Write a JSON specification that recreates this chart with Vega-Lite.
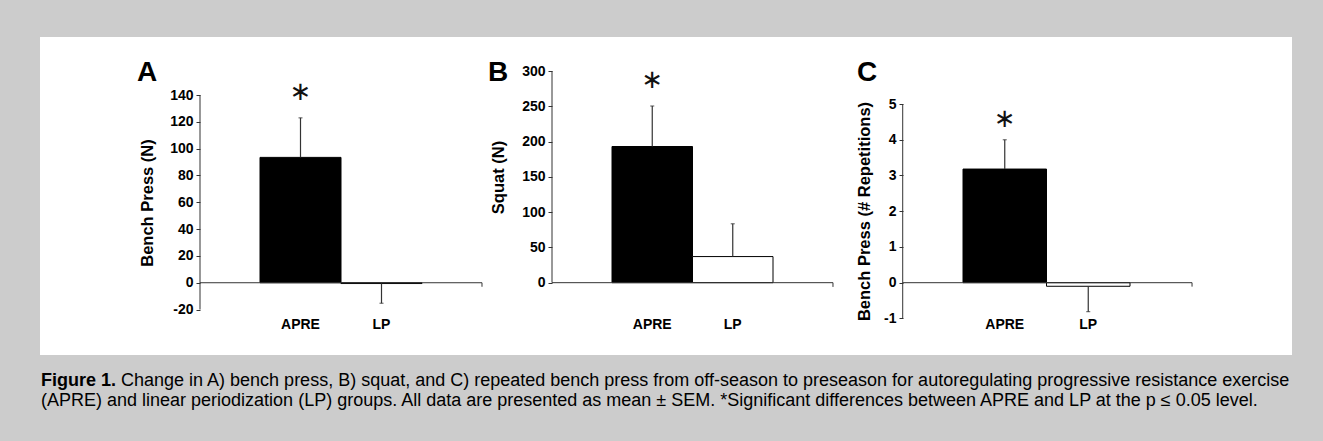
{
  "$schema": "https://vega.github.io/schema/vega-lite/v6.json",
  "background": "#cccccc",
  "padding": {"left": 40, "top": 37, "right": 31, "bottom": 32},
  "title": {
    "text": "(APRE) and linear periodization (LP) groups. All data are presented as mean ± SEM. *Significant differences between APRE and LP at the p ≤ 0.05 level.",
    "orient": "bottom",
    "anchor": "start",
    "offset": 16,
    "baseline": "alphabetic",
    "font": "Liberation Sans",
    "fontSize": 18,
    "fontWeight": "normal",
    "color": "black",
    "dx": 1
  },
  "config": {
    "view": {"fill": "white", "stroke": null},
    "axis": {
      "grid": false,
      "labelFont": "Liberation Sans",
      "labelFontWeight": "bold",
      "labelFontSize": 14,
      "labelColor": "black",
      "labelOverlap": false,
      "titleFont": "Liberation Sans",
      "titleFontWeight": "bold",
      "titleFontSize": 16.5,
      "titleColor": "black",
      "tickColor": "#333333"
    },
    "title": {"font": "Liberation Sans", "fontWeight": "bold", "fontSize": 28, "color": "black"}
  },
  "vconcat": [
    {
      "title": {"text": "Change in A) bench press, B) squat, and C) repeated bench press from off-season to preseason for autoregulating progressive resistance exercise", "orient": "bottom", "anchor": "start", "offset": -4, "baseline": "alphabetic", "font": "Liberation Sans", "fontSize": 18, "fontWeight": "normal", "color": "black", "dx": 81},
      "vconcat": [
        {
          "spacing": 0,
          "title": {"text": "Figure 1.", "orient": "bottom", "anchor": "start", "offset": 31, "baseline": "alphabetic", "font": "Liberation Sans", "fontSize": 18, "fontWeight": "bold", "color": "black", "dx": 1},
          "hconcat": [
            {
              "width": 445,
              "height": 318,
              "title": {"text": "A", "anchor": "start", "frame": "group", "orient": "top", "offset": -72, "dx": 97, "baseline": "alphabetic"},
              "data": {"values": [
                {"group": "APRE", "mean": 93.5, "end": 123, "sig": "∗"},
                {"group": "LP", "mean": -0.6, "end": -15.3, "sig": ""}
              ]},
              "layer": [
                {
                  "mark": {"type": "bar", "stroke": "black", "strokeWidth": 1},
                  "encoding": {
                    "x": {"field": "group", "type": "nominal", "sort": null, "scale": {"domain": ["APRE", "LP"], "range": [220, 382], "paddingInner": 0, "paddingOuter": 0},
                      "axis": {"title": null, "orient": "bottom", "domain": false, "ticks": false, "labelPadding": 0, "offset": -38, "labelAngle": 0}},
                    "y": {"field": "mean", "type": "quantitative", "scale": {"domain": [-53.9, 183.3], "nice": false, "zero": false},
                      "axis": {"title": "Bench Press (N)", "values": [-20, 0, 20, 40, 60, 80, 100, 120, 140], "tickCount": 12, "labelOverlap": false, "labelExpr": "replace(datum.label, '−', '-')",
                        "offset": -160, "domain": false, "tickSize": 4, "labelPadding": 3,
                        "titleX": -53, "titleY": 165.5, "titleBaseline": "middle", "titleAngle": -90, "titleAlign": "center"}},
                    "y2": {"datum": 0},
                    "color": {"field": "group", "type": "nominal", "scale": {"domain": ["APRE", "LP"], "range": ["black", "white"]}, "legend": null}
                  }
                },
                {
                  "data": {"values": [{}]},
                  "mark": {"type": "rule", "color": "#333333", "strokeWidth": 1},
                  "encoding": {
                    "x": {"datum": "APRE", "type": "nominal", "bandPosition": -0.7407},
                    "y": {"datum": -20, "type": "quantitative"},
                    "y2": {"datum": 140}
                  }
                },
                {
                  "data": {"values": [{}]},
                  "mark": {"type": "rule", "color": "#333333", "strokeWidth": 1},
                  "encoding": {
                    "x": {"datum": "APRE", "type": "nominal", "bandPosition": -0.7407},
                    "x2": {"datum": "APRE", "bandPosition": 2.7407},
                    "y": {"datum": 0, "type": "quantitative"}
                  }
                },
                {
                  "data": {"values": [{}]},
                  "mark": {"type": "rule", "color": "#333333", "strokeWidth": 1},
                  "encoding": {
                    "x": {"datum": "APRE", "type": "nominal", "bandPosition": 2.7407},
                    "y": {"datum": 0, "type": "quantitative"},
                    "y2": {"datum": -3}
                  }
                },
                {
                  "mark": {"type": "rule", "color": "#333333", "strokeWidth": 1.2},
                  "encoding": {
                    "x": {"field": "group", "type": "nominal"},
                    "y": {"field": "mean", "type": "quantitative"},
                    "y2": {"field": "end"}
                  }
                },
                {
                  "mark": {"type": "tick", "orient": "horizontal", "color": "#333333", "size": 4, "thickness": 1.2},
                  "encoding": {
                    "x": {"field": "group", "type": "nominal"},
                    "y": {"field": "end", "type": "quantitative"}
                  }
                },
                {
                  "mark": {"type": "text", "font": "DejaVu Sans", "fontSize": 26, "baseline": "middle", "align": "center", "color": "#111111"},
                  "encoding": {
                    "x": {"field": "group", "type": "nominal"},
                    "y": {"datum": 142.6, "type": "quantitative"},
                    "text": {"field": "sig"}
                  }
                }
              ]
            },
            {
              "width": 360,
              "height": 318,
              "title": {"text": "B", "anchor": "start", "frame": "group", "orient": "top", "offset": -72, "dx": 3, "baseline": "alphabetic"},
              "data": {"values": [
                {"group": "APRE", "mean": 193, "end": 250.4, "sig": "∗"},
                {"group": "LP", "mean": 37, "end": 83.5, "sig": ""}
              ]},
              "layer": [
                {
                  "mark": {"type": "bar", "stroke": "black", "strokeWidth": 1},
                  "encoding": {
                    "x": {"field": "group", "type": "nominal", "sort": null, "scale": {"domain": ["APRE", "LP"], "range": [127, 288], "paddingInner": 0, "paddingOuter": 0},
                      "axis": {"title": null, "orient": "bottom", "domain": false, "ticks": false, "labelPadding": 0, "offset": -38, "labelAngle": 0}},
                    "y": {"field": "mean", "type": "quantitative", "scale": {"domain": [-102.5, 348.2], "nice": false, "zero": false},
                      "axis": {"title": "Squat (N)", "values": [0, 50, 100, 150, 200, 250, 300], "tickCount": 10, "labelOverlap": false, "offset": -67, "domain": false, "tickSize": 4, "labelPadding": 3,
                        "titleX": -54, "titleY": 140, "titleBaseline": "middle", "titleAngle": -90, "titleAlign": "center"}},
                    "y2": {"datum": 0},
                    "color": {"field": "group", "type": "nominal", "scale": {"domain": ["APRE", "LP"], "range": ["black", "white"]}, "legend": null}
                  }
                },
                {
                  "data": {"values": [{}]},
                  "mark": {"type": "rule", "color": "#333333", "strokeWidth": 1},
                  "encoding": {
                    "x": {"datum": "APRE", "type": "nominal", "bandPosition": -0.7453},
                    "y": {"datum": 0, "type": "quantitative"},
                    "y2": {"datum": 300}
                  }
                },
                {
                  "data": {"values": [{}]},
                  "mark": {"type": "rule", "color": "#333333", "strokeWidth": 1},
                  "encoding": {
                    "x": {"datum": "APRE", "type": "nominal", "bandPosition": -0.7453},
                    "x2": {"datum": "APRE", "bandPosition": 2.745},
                    "y": {"datum": 0, "type": "quantitative"}
                  }
                },
                {
                  "data": {"values": [{}]},
                  "mark": {"type": "rule", "color": "#333333", "strokeWidth": 1},
                  "encoding": {
                    "x": {"datum": "APRE", "type": "nominal", "bandPosition": 2.745},
                    "y": {"datum": 0, "type": "quantitative"},
                    "y2": {"datum": -6}
                  }
                },
                {
                  "mark": {"type": "rule", "color": "#333333", "strokeWidth": 1.2},
                  "encoding": {
                    "x": {"field": "group", "type": "nominal"},
                    "y": {"field": "mean", "type": "quantitative"},
                    "y2": {"field": "end"}
                  }
                },
                {
                  "mark": {"type": "tick", "orient": "horizontal", "color": "#333333", "size": 4, "thickness": 1.2},
                  "encoding": {
                    "x": {"field": "group", "type": "nominal"},
                    "y": {"field": "end", "type": "quantitative"}
                  }
                },
                {
                  "mark": {"type": "text", "font": "DejaVu Sans", "fontSize": 26, "baseline": "middle", "align": "center", "color": "#111111"},
                  "encoding": {
                    "x": {"field": "group", "type": "nominal"},
                    "y": {"datum": 286.8, "type": "quantitative"},
                    "text": {"field": "sig"}
                  }
                }
              ]
            },
            {
              "width": 447,
              "height": 318,
              "title": {"text": "C", "anchor": "start", "frame": "group", "orient": "top", "offset": -72, "dx": 12, "baseline": "alphabetic"},
              "data": {"values": [
                {"group": "APRE", "mean": 3.18, "end": 4.0, "sig": "∗"},
                {"group": "LP", "mean": -0.1, "end": -0.81, "sig": ""}
              ]},
              "layer": [
                {
                  "mark": {"type": "bar", "stroke": "black", "strokeWidth": 1},
                  "encoding": {
                    "x": {"field": "group", "type": "nominal", "sort": null, "scale": {"domain": ["APRE", "LP"], "range": [118, 285], "paddingInner": 0, "paddingOuter": 0},
                      "axis": {"title": null, "orient": "bottom", "domain": false, "ticks": false, "labelPadding": 0, "offset": -38, "labelAngle": 0}},
                    "y": {"field": "mean", "type": "quantitative", "scale": {"domain": [-2.023, 6.875], "nice": false, "zero": false},
                      "axis": {"title": "Bench Press (# Repetitions)", "values": [-1, 0, 1, 2, 3, 4, 5], "tickCount": 10, "labelOverlap": false, "labelExpr": "replace(datum.label, '−', '-')",
                        "offset": -58, "domain": false, "tickSize": 4, "labelPadding": 3,
                        "titleX": -39, "titleY": 174, "titleBaseline": "middle", "titleAngle": -90, "titleAlign": "center"}},
                    "y2": {"datum": 0},
                    "color": {"field": "group", "type": "nominal", "scale": {"domain": ["APRE", "LP"], "range": ["black", "white"]}, "legend": null}
                  }
                },
                {
                  "data": {"values": [{}]},
                  "mark": {"type": "rule", "color": "#333333", "strokeWidth": 1},
                  "encoding": {
                    "x": {"datum": "APRE", "type": "nominal", "bandPosition": -0.722},
                    "y": {"datum": -1, "type": "quantitative"},
                    "y2": {"datum": 5}
                  }
                },
                {
                  "data": {"values": [{}]},
                  "mark": {"type": "rule", "color": "#333333", "strokeWidth": 1},
                  "encoding": {
                    "x": {"datum": "APRE", "type": "nominal", "bandPosition": -0.722},
                    "x2": {"datum": "APRE", "bandPosition": 2.743},
                    "y": {"datum": 0, "type": "quantitative"}
                  }
                },
                {
                  "data": {"values": [{}]},
                  "mark": {"type": "rule", "color": "#333333", "strokeWidth": 1},
                  "encoding": {
                    "x": {"datum": "APRE", "type": "nominal", "bandPosition": 2.743},
                    "y": {"datum": 0, "type": "quantitative"},
                    "y2": {"datum": -0.11}
                  }
                },
                {
                  "mark": {"type": "rule", "color": "#333333", "strokeWidth": 1.2},
                  "encoding": {
                    "x": {"field": "group", "type": "nominal"},
                    "y": {"field": "mean", "type": "quantitative"},
                    "y2": {"field": "end"}
                  }
                },
                {
                  "mark": {"type": "tick", "orient": "horizontal", "color": "#333333", "size": 4, "thickness": 1.2},
                  "encoding": {
                    "x": {"field": "group", "type": "nominal"},
                    "y": {"field": "end", "type": "quantitative"}
                  }
                },
                {
                  "mark": {"type": "text", "font": "DejaVu Sans", "fontSize": 26, "baseline": "middle", "align": "center", "color": "#111111"},
                  "encoding": {
                    "x": {"field": "group", "type": "nominal"},
                    "y": {"datum": 4.58, "type": "quantitative"},
                    "text": {"field": "sig"}
                  }
                }
              ]
            }
          ]
        }
      ]
    }
  ]
}
